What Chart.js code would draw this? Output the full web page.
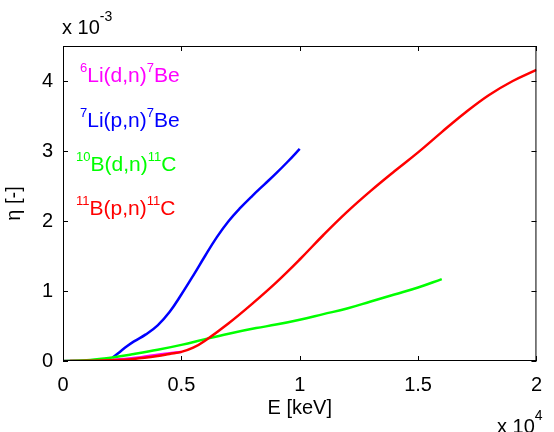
<!DOCTYPE html>
<html>
<head>
<meta charset="utf-8">
<script src="https://cdn.jsdelivr.net/npm/chart.js@4"></script>
<style>
  html, body { margin: 0; padding: 0; background: #fff; }
  #wrap { width: 554px; height: 432px; }
</style>
</head>
<body>
<div id="wrap"><canvas id="etaChart" width="554" height="432"></canvas></div>
<script>
// Energy in units of 10^4 keV, efficiency in units of 10^-3
const liDnX = [0, 0.1, 0.2, 0.26, 0.33, 0.4, 0.45, 0.5];
const liDnY = [0, 0.005, 0.015, 0.03, 0.055, 0.09, 0.11, 0.13];

const liPnX = [0.21, 0.24, 0.27, 0.3, 0.35, 0.4, 0.45, 0.5, 0.55, 0.6, 0.65, 0.7, 0.75, 0.8, 0.85, 0.9, 0.95, 1.0];
const liPnY = [0.05, 0.13, 0.21, 0.28, 0.38, 0.51, 0.7, 0.95, 1.22, 1.5, 1.77, 2.0, 2.19, 2.36, 2.52, 2.68, 2.85, 3.03];

const bDnX = [0, 0.1, 0.153, 0.208, 0.3, 0.4, 0.5, 0.609, 0.7, 0.816, 0.9, 1.0, 1.1, 1.2, 1.3, 1.4, 1.5, 1.6];
const bDnY = [0, 0.01, 0.03, 0.05, 0.1, 0.16, 0.23, 0.32, 0.39, 0.47, 0.52, 0.59, 0.67, 0.75, 0.85, 0.95, 1.05, 1.17];

const bPnX = [0.03, 0.1, 0.2, 0.3, 0.4, 0.45, 0.5, 0.55, 0.6, 0.7, 0.8, 0.9, 1.0, 1.1, 1.2, 1.3, 1.4, 1.5, 1.6, 1.7, 1.8, 1.9, 2.0];
const bPnY = [0, 0.003, 0.01, 0.03, 0.07, 0.1, 0.13, 0.19, 0.29, 0.54, 0.82, 1.12, 1.45, 1.8, 2.13, 2.43, 2.71, 2.98, 3.27, 3.55, 3.8, 4.0, 4.16];

const xTicks = [0, 0.5, 1, 1.5, 2];
const yTicks = [0, 1, 2, 3, 4];

const FONT = '"Liberation Sans", Arial, Helvetica, sans-serif';

function toPoints(xs, ys) {
    return xs.map((x, i) => ({ x: x, y: ys[i] }));
}

// rich text with superscripts: [[text, isSup], ...]
function drawRich(ctx, parts, x, y, size, supSize, rise, color) {
    ctx.fillStyle = color;
    ctx.textBaseline = 'alphabetic';
    ctx.textAlign = 'left';
    parts.forEach(p => {
        const sup = p[1];
        ctx.font = (sup ? supSize : size) + 'px ' + FONT;
        ctx.fillText(p[0], x, sup ? y - rise : y);
        x += ctx.measureText(p[0]).width;
    });
}

const matlabAxes = {
    id: 'matlabAxes',
    afterDraw(chart) {
        const ctx = chart.ctx;
        const a = chart.chartArea;
        const xs = chart.scales.x, ys = chart.scales.y;
        ctx.save();
        ctx.strokeStyle = '#000';
        ctx.lineWidth = 1;
        ctx.strokeRect(a.left + 0.5, a.top + 0.5, a.right - a.left - 1, a.bottom - a.top - 1);
        ctx.beginPath();
        xTicks.forEach(v => {
            const px = Math.round(xs.getPixelForValue(v)) + 0.5;
            ctx.moveTo(px, a.bottom); ctx.lineTo(px, a.bottom - 5);
            ctx.moveTo(px, a.top); ctx.lineTo(px, a.top + 5);
        });
        yTicks.forEach(v => {
            const py = Math.round(ys.getPixelForValue(v)) + 0.5;
            ctx.moveTo(a.left, py); ctx.lineTo(a.left + 5, py);
            ctx.moveTo(a.right, py); ctx.lineTo(a.right - 5, py);
        });
        ctx.stroke();

        // exponents
        drawRich(ctx, [['x 10', false], ['-3', true]], 62, 34, 20, 14, 13, '#000');
        drawRich(ctx, [['x 10', false], ['4', true]], 497, 433, 20, 14, 13, '#000');

        // axis titles
        ctx.fillStyle = '#000';
        ctx.font = '20px ' + FONT;
        ctx.textAlign = 'center';
        ctx.textBaseline = 'alphabetic';
        ctx.fillText('E [keV]', (a.left + a.right) / 2, 414);
        ctx.save();
        ctx.translate(20, (a.top + a.bottom) / 2);
        ctx.rotate(-Math.PI / 2);
        ctx.fillText('\u03b7 [-]', 0, 0);
        ctx.restore();

        // in-plot labels
        drawRich(ctx, [['6', true], ['Li(d,n)', false], ['7', true], ['Be', false]], 80, 82, 21, 13, 10, '#ff00ff');
        drawRich(ctx, [['7', true], ['Li(p,n)', false], ['7', true], ['Be', false]], 80, 127, 21, 13, 10, '#0000ff');
        drawRich(ctx, [['10', true], ['B(d,n)', false], ['11', true], ['C', false]], 76, 171, 21, 13, 10, '#00ff00');
        drawRich(ctx, [['11', true], ['B(p,n)', false], ['11', true], ['C', false]], 76, 215, 21, 13, 10, '#ff0000');
        ctx.restore();
    }
};

document.addEventListener('DOMContentLoaded', function() {
    const ctx = document.getElementById('etaChart').getContext('2d');
    const lineStyle = { showLine: true, pointRadius: 0, borderWidth: 2.5, tension: 0.4, fill: false };
    new Chart(ctx, {
        type: 'scatter',
        data: {
            datasets: [
                Object.assign({ label: '6Li(d,n)7Be', data: toPoints(liDnX, liDnY), borderColor: '#ff00ff', order: 4 }, lineStyle),
                Object.assign({ label: '7Li(p,n)7Be', data: toPoints(liPnX, liPnY), borderColor: '#0000ff', order: 3 }, lineStyle),
                Object.assign({ label: '10B(d,n)11C', data: toPoints(bDnX, bDnY), borderColor: '#00ff00', order: 2 }, lineStyle),
                Object.assign({ label: '11B(p,n)11C', data: toPoints(bPnX, bPnY), borderColor: '#ff0000', order: 1 }, lineStyle)
            ]
        },
        options: {
            responsive: false,
            animation: false,
            layout: { padding: { left: 0, top: 46, right: 8, bottom: 0 } },
            plugins: {
                legend: { display: false },
                tooltip: { enabled: false }
            },
            scales: {
                x: {
                    type: 'linear',
                    min: 0,
                    max: 2,
                    afterFit: function(scale) { scale.height = 71; },
                    afterBuildTicks: function(scale) { scale.ticks = xTicks.map(v => ({ value: v })); },
                    grid: { display: false, drawTicks: false },
                    border: { display: false },
                    ticks: {
                        padding: 12,
                        color: '#000',
                        maxRotation: 0,
                        font: { family: FONT, size: 20 },
                        callback: function(value) { return String(value); }
                    }
                },
                y: {
                    type: 'linear',
                    min: 0,
                    max: 4.5,
                    afterFit: function(scale) { scale.width = 63; },
                    afterBuildTicks: function(scale) { scale.ticks = yTicks.map(v => ({ value: v })); },
                    grid: { display: false, drawTicks: false },
                    border: { display: false },
                    ticks: {
                        padding: 10,
                        color: '#000',
                        font: { family: FONT, size: 20 },
                        callback: function(value) { return String(value); }
                    }
                }
            }
        },
        plugins: [matlabAxes]
    });
});
</script>
</body>
</html>
